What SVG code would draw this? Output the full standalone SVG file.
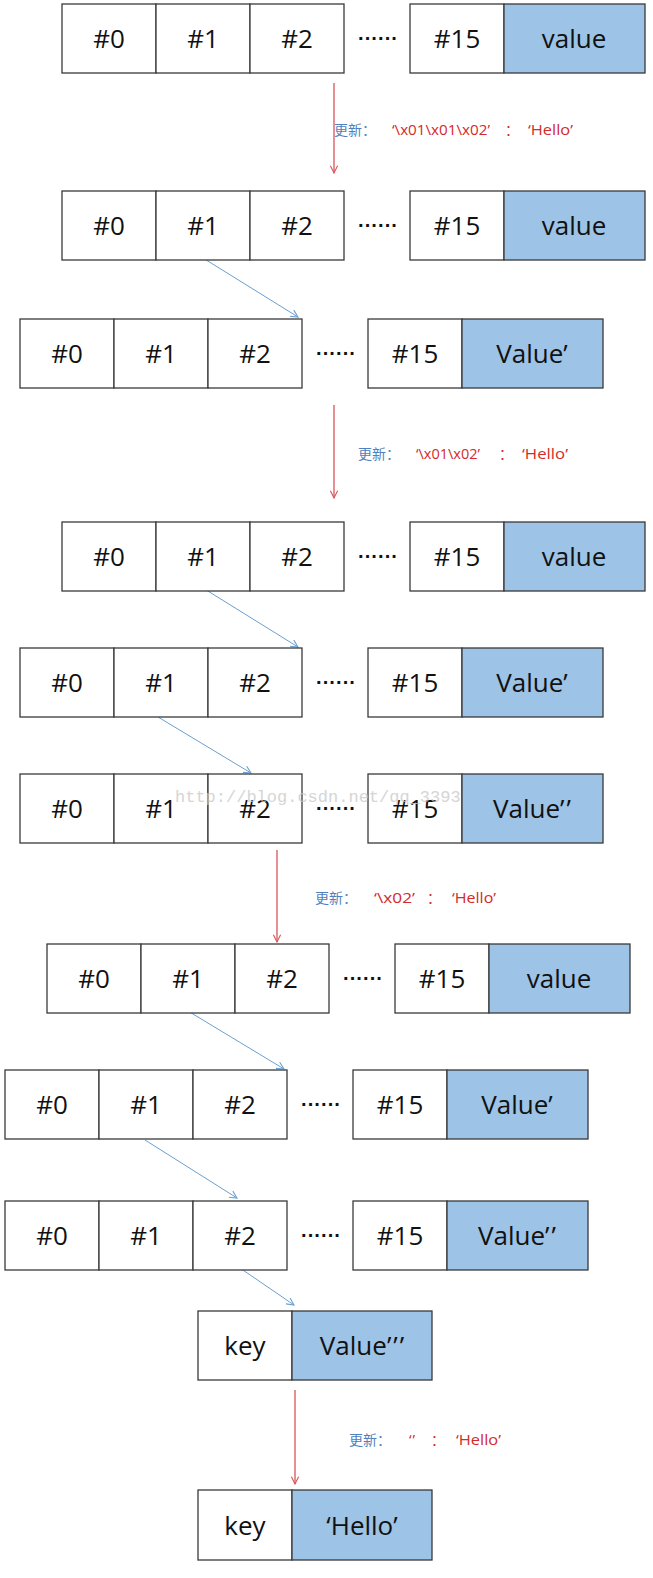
<svg xmlns="http://www.w3.org/2000/svg" width="653" height="1578" viewBox="0 0 653 1578">
<style>
.c{fill:#fff;stroke:#3a3a3a;stroke-width:1.3}
.v{fill:#9dc3e6;stroke:#3a3a3a;stroke-width:1.3}
.t{font-family:"Open Sans","Liberation Sans",sans-serif;font-size:26px;fill:#111;text-anchor:middle}
.d{font-family:"Liberation Sans",sans-serif;font-size:20px;fill:#111;text-anchor:middle;font-weight:bold}
.r{stroke:#d9545a;stroke-width:1.3;fill:none}
.b{stroke:#6a9fd0;stroke-width:1;fill:none}
.lb{font-family:"Noto Sans CJK SC",sans-serif;font-size:14px;fill:#4f81bd}
.lc{font-family:"Noto Sans CJK SC",sans-serif;font-size:14px;fill:#d42a2a}
.lr{font-family:"Open Sans","Liberation Sans",sans-serif;font-size:15px;fill:#d42a2a}
.wm{font-family:"Liberation Mono",monospace;font-size:17px;fill:#c8c8c8;opacity:0.75}
</style>
<defs>
<marker id="ar" viewBox="0 0 10 10" refX="9" refY="5" markerWidth="9" markerHeight="9" orient="auto" markerUnits="userSpaceOnUse">
<path d="M1,1 L9,5 L1,9" fill="none" stroke="#d9545a" stroke-width="1.2"/>
</marker>
<marker id="ab" viewBox="0 0 10 10" refX="9" refY="5" markerWidth="9" markerHeight="9" orient="auto" markerUnits="userSpaceOnUse">
<path d="M1,1 L9,5 L1,9" fill="none" stroke="#6a9fd0" stroke-width="1.2"/>
</marker>
<g id="rowA">
<rect class="c" x="0" y="0" width="94" height="69"/>
<rect class="c" x="94" y="0" width="94" height="69"/>
<rect class="c" x="188" y="0" width="94" height="69"/>
<text class="t" x="47" y="44">#0</text>
<text class="t" x="141" y="44">#1</text>
<text class="t" x="235" y="44">#2</text>
<text class="d" x="316" y="41">······</text>
<rect class="c" x="348" y="0" width="94" height="69"/>
<rect class="v" x="442" y="0" width="141" height="69"/>
<text class="t" x="395" y="44">#15</text>
</g>
</defs>

<g id="connectors">
<line class="r" x1="334" y1="83" x2="334" y2="173" marker-end="url(#ar)"/>
<line class="b" x1="203" y1="258" x2="298" y2="317" marker-end="url(#ab)"/>
<line class="r" x1="334" y1="405" x2="334" y2="498" marker-end="url(#ar)"/>
<line class="b" x1="203" y1="588" x2="298" y2="647" marker-end="url(#ab)"/>
<line class="b" x1="158" y1="717" x2="251" y2="773" marker-end="url(#ab)"/>
<line class="r" x1="277" y1="850" x2="277" y2="942" marker-end="url(#ar)"/>
<line class="b" x1="188" y1="1011" x2="284" y2="1069" marker-end="url(#ab)"/>
<line class="b" x1="145" y1="1140" x2="237" y2="1198" marker-end="url(#ab)"/>
<line class="b" x1="240" y1="1268" x2="294" y2="1305" marker-end="url(#ab)"/>
<line class="r" x1="295" y1="1390" x2="295" y2="1484" marker-end="url(#ar)"/>
</g>

<g id="label1">
<text class="lb" x="334" y="135">更新：</text>
<text class="lr" x="392" y="135" textLength="98" lengthAdjust="spacingAndGlyphs">‘\x01\x01\x02’</text>
<text class="lc" x="505" y="135">：</text>
<text class="lr" x="528" y="135" textLength="45" lengthAdjust="spacingAndGlyphs">‘Hello’</text>
</g>
<g id="label2">
<text class="lb" x="358" y="459">更新：</text>
<text class="lr" x="416" y="459" textLength="64" lengthAdjust="spacingAndGlyphs">‘\x01\x02’</text>
<text class="lc" x="499" y="459">：</text>
<text class="lr" x="522" y="459" textLength="46" lengthAdjust="spacingAndGlyphs">‘Hello’</text>
</g>
<g id="label3">
<text class="lb" x="315" y="903">更新：</text>
<text class="lr" x="374" y="903" textLength="41" lengthAdjust="spacingAndGlyphs">‘\x02’</text>
<text class="lc" x="427" y="903">：</text>
<text class="lr" x="452" y="903" textLength="44" lengthAdjust="spacingAndGlyphs">‘Hello’</text>
</g>
<g id="label4">
<text class="lb" x="349" y="1445">更新：</text>
<text class="lr" x="409" y="1445">‘<tspan dx="1">’</tspan></text>
<text class="lc" x="431" y="1445">：</text>
<text class="lr" x="456" y="1445" textLength="45" lengthAdjust="spacingAndGlyphs">‘Hello’</text>
</g>

<g id="row1" transform="translate(62,4)"><use href="#rowA"/><text class="t" x="512" y="44">value</text></g>
<g id="row2" transform="translate(62,191)"><use href="#rowA"/><text class="t" x="512" y="44">value</text></g>
<g id="row3" transform="translate(20,319)"><use href="#rowA"/><text class="t" x="512" y="44">Value’</text></g>
<g id="row4" transform="translate(62,522)"><use href="#rowA"/><text class="t" x="512" y="44">value</text></g>
<g id="row5" transform="translate(20,648)"><use href="#rowA"/><text class="t" x="512" y="44">Value’</text></g>
<g id="row6" transform="translate(20,774)"><use href="#rowA"/><text class="t" x="512" y="44">Value’<tspan dx="2">’</tspan></text></g>
<g id="row7" transform="translate(47,944)"><use href="#rowA"/><text class="t" x="512" y="44">value</text></g>
<g id="row8" transform="translate(5,1070)"><use href="#rowA"/><text class="t" x="512" y="44">Value’</text></g>
<g id="row9" transform="translate(5,1201)"><use href="#rowA"/><text class="t" x="512" y="44">Value’<tspan dx="2">’</tspan></text></g>
<g id="row10" transform="translate(198,1311)">
<rect class="c" x="0" y="0" width="94" height="69"/>
<rect class="v" x="94" y="0" width="140" height="69"/>
<text class="t" x="47" y="44">key</text>
<text class="t" x="164" y="44">Value’<tspan dx="2">’</tspan><tspan dx="2">’</tspan></text>
</g>
<g id="row11" transform="translate(198,1490)">
<rect class="c" x="0" y="0" width="94" height="70"/>
<rect class="v" x="94" y="0" width="140" height="70"/>
<text class="t" x="47" y="45">key</text>
<text class="t" x="164" y="45">‘Hello’</text>
</g>

<text class="wm" x="175" y="802">http://blog.csdn.net/qq_3393</text>
</svg>
